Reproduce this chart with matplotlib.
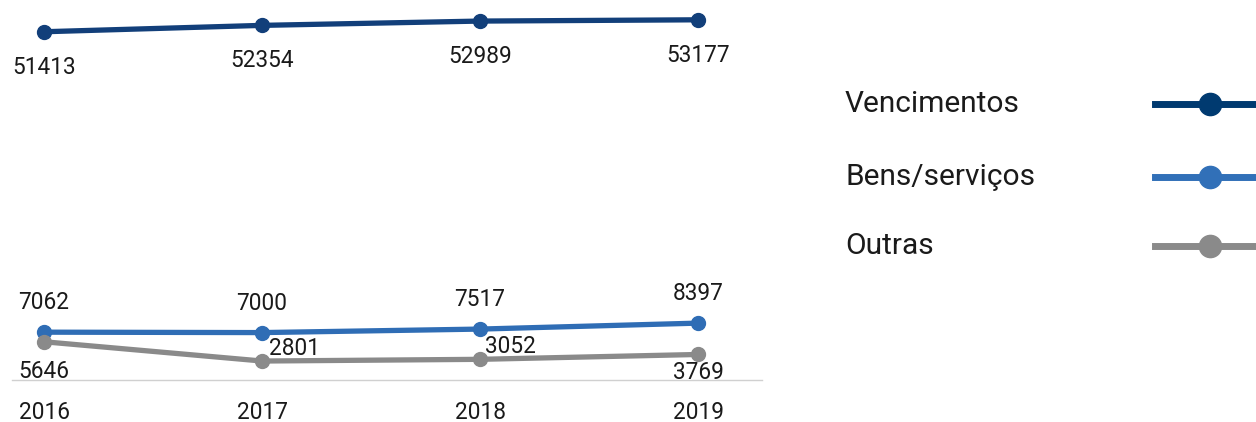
import matplotlib
matplotlib.use("Agg")
import matplotlib.pyplot as plt

plt.rcParams['font.family'] = ['Roboto', 'DejaVu Sans']

years = [2016, 2017, 2018, 2019]
series_names = ["Vencimentos", "Bens/serviços", "Outras"]
vencimentos = [51413, 52354, 52989, 53177]
bens_servicos = [7062, 7000, 7517, 8397]
outras = [5646, 2801, 3052, 3769]

colors = ["#123f7a", "#2f6db5", "#8a8a8a"]
legend_colors = ["#003a70", "#3170b8", "#8a8a8a"]
text_color = "#1a1a1a"

# label placement styles (offset in pixels, alignment)
venc_off = [(0, -42, 'center')] * 4
bens_off = [(0, 23, 'center')] * 4
outr_off = [(0, -36, 'center'), (7, 6, 'left'), (5, 6, 'left'), (0, -25, 'center')]

W, H, DPI = 1256, 422, 100
fig = plt.figure(figsize=(W / DPI, H / DPI), dpi=DPI)
ax = fig.add_axes([12 / W, 42 / H, 750 / W, 380 / H])

px_per_year = 218
ax.set_xlim(2016 - 32 / px_per_year, 2016 - 32 / px_per_year + 750 / px_per_year)
ax.set_ylim(0, 56100)

data = [vencimentos, bens_servicos, outras]
offsets = [venc_off, bens_off, outr_off]
for vals, col, offs in zip(data, colors, offsets):
    ax.plot(years, vals, color=col, lw=3.8, marker='o', ms=10,
            solid_capstyle='round', zorder=3, clip_on=False)
    for x, v, (dx, dy, ha) in zip(years, vals, offs):
        ax.annotate(str(v), (x, v), xytext=(dx * 0.72, dy * 0.72),
                    textcoords='offset points', ha=ha, va='baseline',
                    fontsize=16.3, color=text_color, zorder=4)

for s in ['top', 'right', 'left']:
    ax.spines[s].set_visible(False)
ax.spines['bottom'].set_color('#d0d0d0')
ax.spines['bottom'].set_linewidth(1.0)
ax.set_yticks([])
ax.set_xticks(years)
ax.set_xticklabels([str(y) for y in years], fontsize=16.3, color=text_color)
ax.tick_params(axis='x', length=0, pad=15)

# legend drawn manually (text on left, handle on right)
lax = fig.add_axes([0, 0, 1, 1])
lax.set_xlim(0, W)
lax.set_ylim(H, 0)
lax.axis('off')
leg_rows = [104, 177, 246]
for name, col, yrow in zip(series_names, legend_colors, leg_rows):
    lax.text(845, yrow, name, fontsize=21.5, color=text_color, ha='left', va='center')
    lax.plot([1155, 1270], [yrow, yrow], color=col, lw=5, clip_on=False)
    lax.plot([1210], [yrow], marker='o', ms=16, color=col, clip_on=False)

fig.savefig("out.png", dpi=DPI)
